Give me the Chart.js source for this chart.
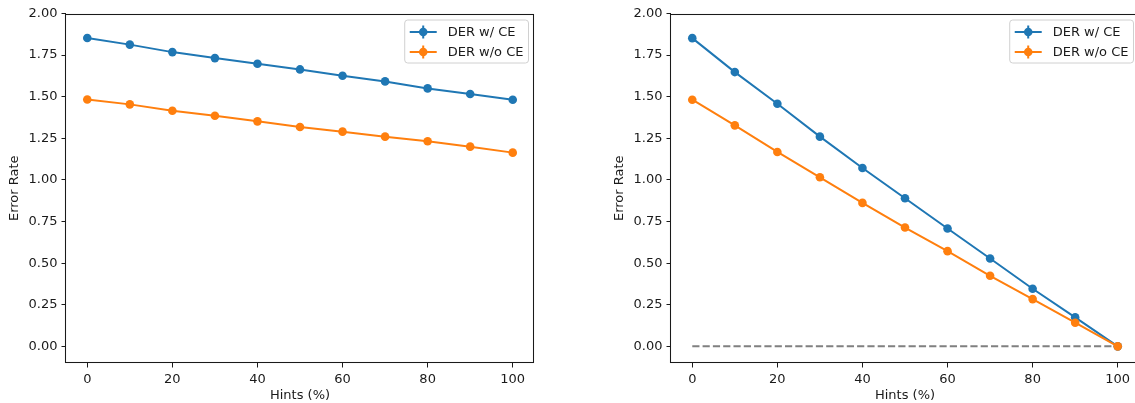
<!DOCTYPE html>
<html><head><meta charset="utf-8">
<script src="https://cdn.jsdelivr.net/npm/chart.js@4.4.1/dist/chart.umd.min.js"></script>
<style>
html,body{margin:0;padding:0;background:#fff;overflow:hidden;width:1135px;height:403px;}
.wrap{position:absolute;top:0;width:560px;height:403px;}
canvas{display:block;}
</style></head><body>
<div class="wrap" style="left:0"><canvas id="c1" width="560" height="403"></canvas></div>
<div class="wrap" style="left:605px"><canvas id="c2" width="560" height="403"></canvas></div>
<script>
const hints = [0, 10, 20, 30, 40, 50, 60, 70, 80, 90, 100];
const leftWithCE    = [1.853, 1.813, 1.768, 1.732, 1.698, 1.664, 1.626, 1.592, 1.550, 1.516, 1.482];
const leftWithoutCE = [1.483, 1.454, 1.416, 1.386, 1.352, 1.318, 1.290, 1.260, 1.232, 1.200, 1.164];
const rightWithCE    = [1.852, 1.648, 1.458, 1.260, 1.072, 0.890, 0.708, 0.528, 0.346, 0.174, 0.0];
const rightWithoutCE = [1.482, 1.328, 1.168, 1.016, 0.862, 0.714, 0.572, 0.424, 0.284, 0.142, 0.0];
const baselineX = [0, 100];
const baselineY = [0, 0];
const xTicks = [0, 20, 40, 60, 80, 100];
const yTicks = [0, 0.25, 0.5, 0.75, 1.0, 1.25, 1.5, 1.75, 2.0];
const labels = ['DER w/ CE', 'DER w/o CE'];
const colors = ['#1f77b4', '#ff7f0e'];

const FONT = 'DejaVu Sans';
const INK = '#1a1a1a';

const framePlugin = {
  id: 'mplFrame',
  afterDatasetsDraw(chart) {
    const {ctx, chartArea: a} = chart;
    ctx.save();
    ctx.strokeStyle = INK;
    ctx.lineWidth = 1.05;
    const l = Math.round(a.left) - 0.5, r = Math.round(a.right) - 0.5;
    const t = Math.round(a.top) + 0.5, b = Math.round(a.bottom) - 0.5;
    ctx.strokeRect(l, t, r - l, b - t);
    ctx.restore();
  }
};

const legendPlugin = {
  id: 'mplLegend',
  afterDraw(chart) {
    const {ctx, chartArea: a} = chart;
    const sets = chart.data.datasets.filter(d => d.inLegend);
    ctx.save();
    ctx.font = '13px "' + FONT + '"';
    const tw = Math.max(...sets.map(d => ctx.measureText(d.label).width));
    const padL = 5, handle = 27, gap = 11, padR = 5;
    const w = padL + handle + gap + tw + padR;
    const h = 43;
    const x0 = a.right - 5.5 - w, y0 = a.top + 6.5;
    ctx.beginPath();
    if (ctx.roundRect) ctx.roundRect(x0, y0, w, h, 3); else ctx.rect(x0, y0, w, h);
    ctx.fillStyle = 'rgba(255,255,255,0.8)';
    ctx.fill();
    ctx.strokeStyle = '#d0d0d0';
    ctx.lineWidth = 1;
    ctx.stroke();
    sets.forEach((d, i) => {
      const cy = y0 + 12 + i * 20;
      const hx0 = x0 + padL, hx1 = hx0 + handle, cx = (hx0 + hx1) / 2;
      ctx.strokeStyle = d.borderColor;
      ctx.lineWidth = 2;
      ctx.beginPath(); ctx.moveTo(hx0, cy); ctx.lineTo(hx1, cy); ctx.stroke();
      ctx.beginPath(); ctx.moveTo(cx, cy - 6.5); ctx.lineTo(cx, cy + 6.5); ctx.stroke();
      ctx.fillStyle = d.borderColor;
      ctx.beginPath(); ctx.arc(cx, cy, 4.3, 0, Math.PI * 2); ctx.fill();
      ctx.fillStyle = INK;
      ctx.textBaseline = 'middle';
      ctx.textAlign = 'left';
      ctx.fillText(d.label, hx1 + gap, cy + 0.5);
    });
    ctx.restore();
  }
};

function series(xs, ys) { return xs.map((x, i) => ({x: x, y: ys[i]})); }

function lineSet(label, color, values, order) {
  return {
    label: label, inLegend: true, order: order,
    data: series(hints, values),
    borderColor: color, backgroundColor: color,
    borderWidth: 2, tension: 0,
    pointRadius: 4.3, pointHoverRadius: 4.3, pointBorderWidth: 0,
    pointBackgroundColor: color
  };
}

function makeChart(id, withCE, withoutCE, showBaseline) {
  const datasets = [
    lineSet(labels[0], colors[0], withCE, 1),
    lineSet(labels[1], colors[1], withoutCE, 0)
  ];
  if (showBaseline) {
    datasets.push({
      label: 'baseline', inLegend: false, order: 2,
      data: series(baselineX, baselineY),
      borderColor: '#808080', borderWidth: 2, borderDash: [7.2, 3.1],
      pointRadius: 0, pointHoverRadius: 0, tension: 0
    });
  }
  const tickFont = {family: FONT, size: 13};
  return new Chart(document.getElementById(id), {
    type: 'line',
    data: {datasets: datasets},
    options: {
      responsive: false, animation: false, devicePixelRatio: 1,
      layout: {padding: {top: 13.5, right: 26, bottom: 0, left: 0}},
      plugins: {legend: {display: false}, tooltip: {enabled: false}},
      scales: {
        x: {
          type: 'linear', min: -5, max: 105,
          afterBuildTicks: s => { s.ticks = xTicks.map(v => ({value: v})); },
          afterFit: s => { s.height = 40; },
          grid: {display: true, drawOnChartArea: false, drawTicks: true, tickLength: 4.5, color: INK, tickColor: INK, tickWidth: 1},
          border: {display: false},
          ticks: {color: INK, font: tickFont, padding: 4, maxRotation: 0, autoSkip: false, callback: v => String(v)},
          title: {display: true, text: 'Hints (%)', color: INK, font: {family: FONT, size: 13, lineHeight: 1.1}, padding: {top: 0, bottom: 0}}
        },
        y: {
          type: 'linear', min: -0.1, max: 2.0,
          afterBuildTicks: s => { s.ticks = yTicks.map(v => ({value: v})); },
          afterFit: s => { s.width = 66; },
          grid: {display: true, drawOnChartArea: false, drawTicks: true, tickLength: 4.5, color: INK, tickColor: INK, tickWidth: 1},
          border: {display: false},
          ticks: {color: INK, font: tickFont, padding: 4, autoSkip: false, callback: v => Number(v).toFixed(2)},
          title: {display: true, text: 'Error Rate', color: INK, font: {family: FONT, size: 13, lineHeight: 1.2}, padding: {top: 7, bottom: 0}}
        }
      }
    },
    plugins: [framePlugin, legendPlugin]
  });
}

makeChart('c1', leftWithCE, leftWithoutCE, false);
makeChart('c2', rightWithCE, rightWithoutCE, true);
</script>
</body></html>
